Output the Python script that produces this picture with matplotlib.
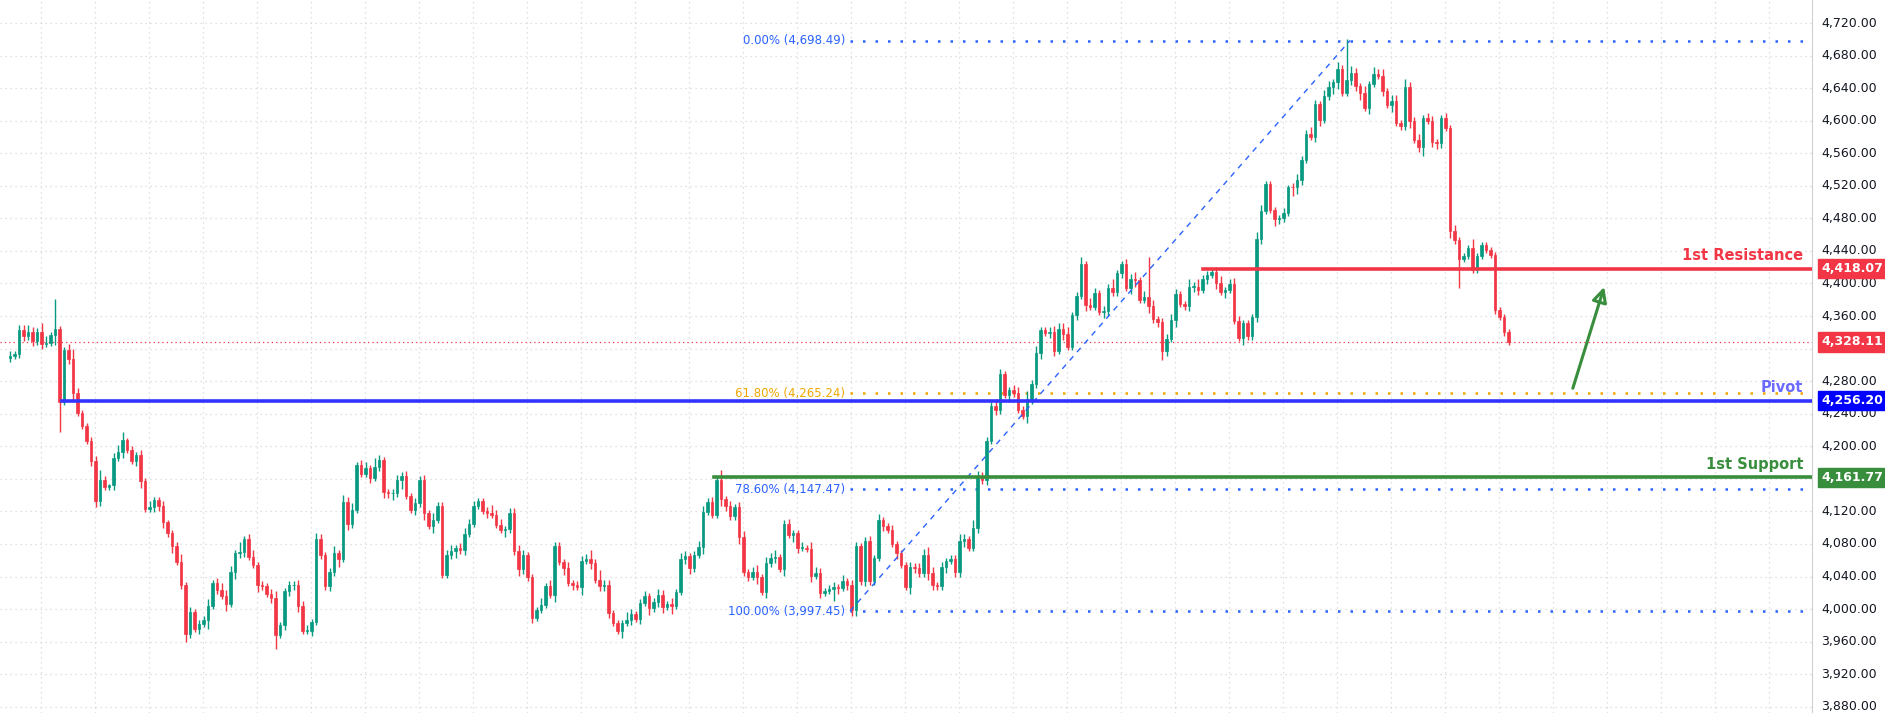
import matplotlib
matplotlib.use("Agg")
import matplotlib.pyplot as plt
from matplotlib.patches import Rectangle
import numpy as np

closes = [
 4311,4313,4343,4335,4341,4329,4341,4326,4327,4337,4344,4255,4318,4307,4265,4241,4225,4207,4182,4133,
 4159,4150,4152,4186,4193,4208,4196,4182,4189,4157,4123,4125,4134,4127,4107,4093,4077,4058,4029,3969,
 3996,3976,3982,3987,4004,4032,4024,4016,4006,4045,4069,4070,4086,4064,4054,4029,4028,4019,4014,3968,
 3980,4022,4029,4030,4004,3973,3973,3984,4086,4066,4028,4045,4069,4062,4132,4105,4122,4177,4166,4173,
 4161,4174,4183,4144,4142,4142,4159,4164,4139,4122,4130,4159,4118,4102,4110,4127,4042,4067,4071,4075,
 4072,4092,4105,4127,4133,4121,4118,4116,4103,4097,4098,4118,4071,4049,4066,4039,3989,3999,4005,4028,
 4017,4077,4058,4050,4032,4030,4027,4059,4062,4057,4036,4028,4030,3995,3983,3973,3983,3986,3994,3988,
 4008,4016,4001,4009,4017,4003,4006,4004,4021,4061,4065,4051,4067,4076,4119,4132,4116,4159,4135,4127,
 4114,4125,4088,4045,4040,4046,4039,4021,4056,4063,4064,4049,4105,4091,4093,4075,4075,4074,4041,4044,
 4020,4022,4025,4027,4026,4034,4030,3999,4077,4034,4084,4034,4063,4109,4102,4097,4080,4069,4054,4027,
 4052,4050,4044,4066,4044,4029,4028,4052,4059,4062,4046,4084,4086,4075,4099,4162,4158,4207,4250,4244,
 4289,4263,4269,4265,4245,4237,4258,4276,4315,4343,4339,4340,4317,4344,4338,4322,4361,4385,4424,4374,
 4371,4388,4365,4366,4395,4389,4413,4424,4395,4406,4404,4380,4383,4372,4356,4353,
 4317,4332,4355,4387,4375,4372,4396,4396,4392,4405,4411,4414,4401,4390,4392,4399,4354,4333,4351,4335,
 4359,4455,4489,4522,4490,4479,4480,4487,4519,4518,4527,4552,4584,4580,4620,4601,4630,4641,4647,4664,
 4634,4650,4659,4642,4634,4616,4645,4657,4655,4636,4619,4624,4597,4593,4641,4599,4576,4568,4603,4600,
 4574,4573,4603,4591,4464,4453,4430,4434,4443,4417,4434,4447,4441,4435,4367,4359,4340,4328.11,
]
first_open = 4308
wick_hi = ("3233432542522463222362134512232422312352322242344426234232342232334243" +
           "2342434234263223323232324223423433222534233432224243324223352633222532" +
           "2322432424322442326232342342434223224244322324233223242232223234542322" +
           "2432543224322342534223444422424323252233424242234322535322342343222442" +
           "222312422432442423432422342442533423322324")
wick_lo = ("2223232322622342223432232422342233424222223262324243322422352333422322" +
           "2325243222322434262232424222342322223222422432322224242325242333224232" +
           "3242342522343242224322423242423242432242322342344232223224224322432242" +
           "3342232323224222432423324223242224322324422423232422333232424222422332" +
           "243225432234224422334242232422242362343242")
# notable long wicks (price values)
extra_hi = {10: 4381, 253: 4432, 265: 4410, 281: 4372, 297: 4700, 303: 4666, 325: 4455}
extra_lo = {11: 4218, 39: 3960, 59: 3951, 96: 4040, 143: 3996, 183: 4010, 188: 3995, 256: 4306, 322: 4395}

n = len(closes)
opens = [first_open] + closes[:-1]
wh = [int(c) * 2 for c in wick_hi.ljust(n, "2")[:n]]
wl = [int(c) * 2 for c in wick_lo.ljust(n, "2")[:n]]
highs = [max(o, c) + w for o, c, w in zip(opens, closes, wh)]
lows = [min(o, c) - w for o, c, w in zip(opens, closes, wl)]
for k, v in extra_hi.items():
    highs[k] = max(highs[k], v)
for k, v in extra_lo.items():
    lows[k] = min(lows[k], v)

resistance = 4418.07
pivot = 4256.20
support = 4161.77
last_price = 4328.11
fib_levels = [(0.0, 4698.49), (61.8, 4265.24), (78.6, 4147.47), (100.0, 3997.45)]
yticks = list(range(3880, 4721, 40))

GREEN = "#089981"
RED = "#f23645"
FIBBLUE = "#2962ff"
FIBORANGE = "#f0a800"

W, H = 1885, 713
fig = plt.figure(figsize=(W / 100, H / 100), dpi=100)
axw = 1812 / W
ax = fig.add_axes([0, 0, axw, 1])
px_per_bar = 4.5
x0_bar = -10 / px_per_bar
ax.set_xlim(x0_bar, x0_bar + 1812 / px_per_bar)
ax.set_ylim(4720 - 690 / 0.814, 4720 + 23 / 0.814)
for s in ["top", "left", "bottom"]:
    ax.spines[s].set_visible(False)
ax.spines["right"].set_color("#d0d0d0")
ax.set_xticks([])
ax.set_yticks([])

for y in yticks:
    ax.axhline(y, color="#d6d6d6", lw=0.9, ls=(0, (1, 3)), zorder=0)
for px in range(41, 1812, 54):
    ax.axvline((px - 10) / px_per_bar, color="#d6d6d6", lw=0.9, ls=(0, (1, 3)), zorder=0)

bw = 0.66
for i, (o, c, h, l) in enumerate(zip(opens, closes, highs, lows)):
    col = GREEN if c >= o else RED
    ax.vlines(i, l, h, color=col, lw=1.0, zorder=3)
    bot = min(o, c)
    ht = max(abs(c - o), 0.8)
    ax.add_patch(Rectangle((i - bw / 2, bot), bw, ht, facecolor=col, edgecolor=col, lw=0.5, zorder=4))

xr = ax.get_xlim()[1]
px2i = lambda px: (px - 10) / px_per_bar

ax.axhline(last_price, color=RED, lw=0.9, ls=(0, (1, 2.5)), zorder=2)

fx0 = px2i(850)
for pct, val in fib_levels:
    col = FIBORANGE if pct == 61.8 else FIBBLUE
    ax.plot([fx0, xr], [val, val], color=col, lw=1.8, ls=(0, (1, 4)), zorder=2)
    ax.text(px2i(845), val, f"{pct:.2f}% ({val:,.2f})", color=col, fontsize=8.5,
            ha="right", va="center", zorder=6)
ax.plot([px2i(850), px2i(1350)], [3997.45, 4698.49], color=FIBBLUE, lw=1.0,
        ls=(0, (4, 4)), zorder=5)

ax.plot([px2i(1203), xr], [resistance] * 2, color=RED, lw=2.6, zorder=5)
ax.plot([px2i(62), xr], [pivot] * 2, color="#3333ff", lw=2.6, zorder=5)
ax.plot([px2i(714), xr], [support] * 2, color="#388e3c", lw=2.6, zorder=5)
ax.text(px2i(1803), resistance + 7, "1st Resistance", color=RED, fontsize=10.5,
        fontweight="bold", ha="right", va="bottom", zorder=6)
ax.text(px2i(1803), pivot + 7, "Pivot", color="#6b6bff", fontsize=10.5,
        fontweight="bold", ha="right", va="bottom", zorder=6)
ax.text(px2i(1803), support + 7, "1st Support", color="#388e3c", fontsize=10.5,
        fontweight="bold", ha="right", va="bottom", zorder=6)

ax.annotate("", xy=(px2i(1605), 4399), xytext=(px2i(1572), 4268),
            arrowprops=dict(arrowstyle="-|>,head_length=0.9,head_width=0.45", color="#388e3c",
                            lw=2.2, fill=False), zorder=6)

trans = ax.get_yaxis_transform()
for y in yticks:
    ax.text(1.0 + 9 / 1812, y, f"{y:,.2f}", transform=trans, fontsize=9, color="#131722",
            ha="left", va="center", clip_on=False)
for val, col in [(resistance, RED), (last_price, RED), (pivot, "#0000ff"), (support, "#388e3c")]:
    ax.text(1.0 + 9 / 1812, val, f"{val:,.2f}", transform=trans, fontsize=9, color="white",
            fontweight="bold", ha="left", va="center", clip_on=False, zorder=10,
            bbox=dict(boxstyle="square,pad=0.25", facecolor=col, edgecolor=col))

fig.savefig("out.png", dpi=100, facecolor="white")
